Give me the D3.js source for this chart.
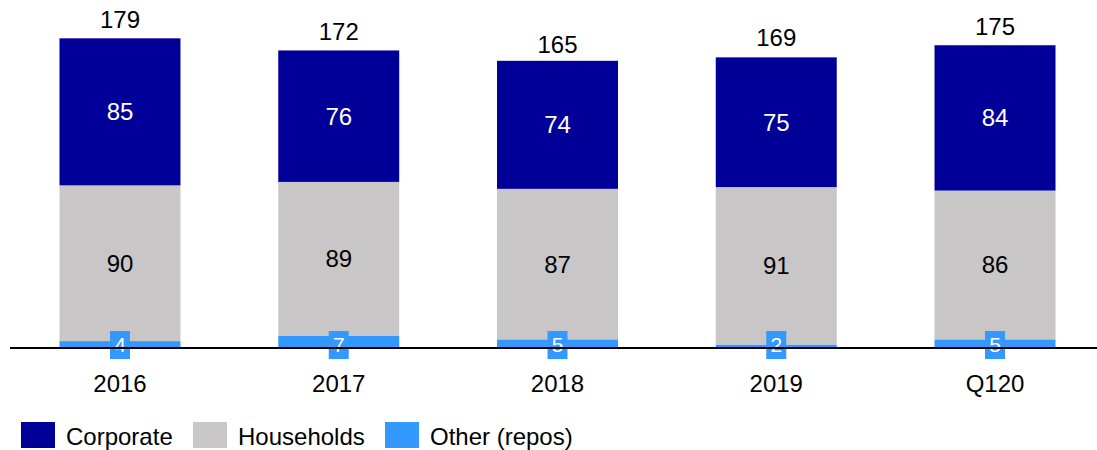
<!DOCTYPE html>
<html>
<head>
<meta charset="utf-8">
<script src="https://cdnjs.cloudflare.com/ajax/libs/d3/7.8.5/d3.min.js"></script>
<style>
  body { margin: 0; background: #fff; }
  svg text { font-family: "Liberation Sans", Arial, sans-serif; }
</style>
</head>
<body>
<div id="vis"></div>
<script>
var categories = ['2016', '2017', '2018', '2019', 'Q120'];
var corporate = [85, 76, 74, 75, 84];
var households = [90, 89, 87, 91, 86];
var other = [4, 7, 5, 2, 5];
var totals = [179, 172, 165, 169, 175];

var seriesNames = ['Other (repos)', 'Households', 'Corporate'];
var colors = { 'Corporate': '#000099', 'Households': '#c8c6c6', 'Other (repos)': '#3399ff' };

var width = 1097, height = 450;
var baseY = 348;

var svg = d3.select('#vis').append('svg')
    .attr('width', width)
    .attr('height', height);

var rows = categories.map(function(c, i) {
    return { cat: c, 'Other (repos)': other[i], 'Households': households[i], 'Corporate': corporate[i], total: totals[i] };
});

var xScale = d3.scaleBand()
    .domain(categories)
    .range([10.6, 1104.4])
    .paddingInner(0.447)
    .paddingOuter(0.2235);

var yScale = d3.scaleLinear()
    .domain([0, 180])
    .range([baseY, baseY - 180 * 1.73]);

var stack = d3.stack().keys(seriesNames);
var layers = stack(rows);

var g = svg.append('g');

layers.forEach(function(layer) {
    g.selectAll('rect.s' + layer.index)
        .data(layer)
        .enter().append('rect')
        .attr('x', function(d) { return xScale(d.data.cat); })
        .attr('width', xScale.bandwidth())
        .attr('y', function(d) { return yScale(d[1]); })
        .attr('height', function(d) { return yScale(d[0]) - yScale(d[1]); })
        .attr('fill', colors[layer.key]);
});

// axis line
svg.append('line')
    .attr('x1', 10).attr('x2', 1097)
    .attr('y1', baseY).attr('y2', baseY)
    .attr('stroke', '#000')
    .attr('stroke-width', 2);

// segment labels for corporate and households
[1, 2].forEach(function(li) {
    var layer = layers[li];
    g.selectAll('text.l' + li)
        .data(layer)
        .enter().append('text')
        .attr('x', function(d) { return xScale(d.data.cat) + xScale.bandwidth() / 2; })
        .attr('y', function(d) { return (yScale(d[0]) + yScale(d[1])) / 2 + 8.5; })
        .attr('text-anchor', 'middle')
        .style('font-size', '24px')
        .attr('fill', layer.key === 'Corporate' ? '#fff' : '#000')
        .text(function(d) { return d.data[layer.key]; });
});

// other labels in small boxes
var oth = g.selectAll('g.oth').data(rows).enter().append('g')
    .attr('transform', function(d) {
        return 'translate(' + (xScale(d.cat) + xScale.bandwidth() / 2) + ',' + (baseY - 3) + ')';
    });
oth.append('rect')
    .attr('x', -10).attr('y', -14)
    .attr('width', 20).attr('height', 28)
    .attr('fill', '#3399ff');
oth.append('text')
    .attr('text-anchor', 'middle')
    .attr('y', 7)
    .style('font-size', '21px')
    .attr('fill', '#fff')
    .text(function(d) { return d['Other (repos)']; });

// totals
g.selectAll('text.total').data(rows).enter().append('text')
    .attr('x', function(d) { return xScale(d.cat) + xScale.bandwidth() / 2; })
    .attr('y', function(d) { return yScale(d.total) - 10; })
    .attr('text-anchor', 'middle')
    .style('font-size', '24px')
    .attr('fill', '#000')
    .text(function(d) { return d.total; });

// category labels
var xAxis = d3.axisBottom(xScale).tickSize(0).tickPadding(0);
var xAxisG = svg.append('g')
    .attr('transform', 'translate(0,' + (baseY + 27) + ')')
    .call(xAxis);
xAxisG.select('.domain').remove();
xAxisG.selectAll('text')
    .style('font-size', '24px')
    .style('font-family', '"Liberation Sans", Arial, sans-serif')
    .attr('fill', '#000');

// legend
var legendItems = [
    { name: 'Corporate', x: 21 },
    { name: 'Households', x: 193 },
    { name: 'Other (repos)', x: 385 }
];
var lg = svg.selectAll('g.legend').data(legendItems).enter().append('g')
    .attr('transform', function(d) { return 'translate(' + d.x + ',422)'; });
lg.append('rect')
    .attr('width', 34).attr('height', 26)
    .attr('fill', function(d) { return colors[d.name]; });
lg.append('text')
    .attr('x', 45).attr('y', 23)
    .style('font-size', '24px')
    .attr('fill', '#000')
    .text(function(d) { return d.name; });
</script>
</body>
</html>
